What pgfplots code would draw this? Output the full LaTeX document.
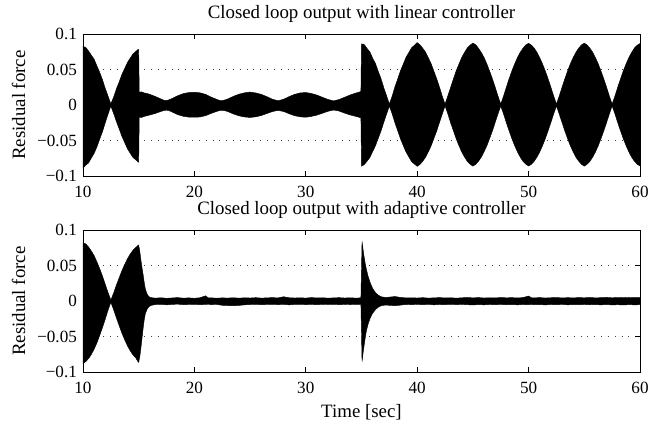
\documentclass[12pt,border=0pt]{standalone}
\usepackage{fontspec}
\setmainfont{Liberation Serif}
\usepackage{pgfplots}
\usepackage{pgfplotstable}
\pgfplotsset{compat=1.18}
\usepgfplotslibrary{fillbetween}

\pgfplotstableread{
t up lo
10.00 .0825 -.0890
10.25 .0810 -.0845
10.50 .0760 -.0815
10.75 .0700 -.0745
11.00 .0645 -.0680
11.25 .0550 -.0590
11.50 .0460 -.0480
11.75 .0355 -.0375
12.00 .0235 -.0250
12.25 .0125 -.0130
12.50 .0015 -.0015
12.75 .0110 -.0118
13.00 .0228 -.0232
13.25 .0325 -.0336
13.50 .0432 -.0442
13.75 .0515 -.0530
14.00 .0600 -.0618
14.25 .0662 -.0680
14.50 .0720 -.0740
14.75 .0755 -.0772
14.95 .0782 -.0800
15.00 .0780 -.0805
15.05 .0180 -.0170
15.25 .0185 -.0175
15.50 .0170 -.0160
15.75 .0162 -.0150
16.00 .0150 -.0140
16.50 .0120 -.0118
17.00 .0085 -.0090
17.25 .0068 -.0078
17.50 .0062 -.0072
17.75 .0075 -.0080
18.00 .0092 -.0098
18.50 .0130 -.0135
19.00 .0160 -.0158
19.50 .0176 -.0170
20.00 .0180 -.0172
20.50 .0172 -.0168
21.00 .0150 -.0150
21.50 .0112 -.0118
22.00 .0080 -.0090
22.25 .0065 -.0078
22.50 .0062 -.0074
22.75 .0072 -.0080
23.00 .0085 -.0092
23.50 .0122 -.0125
24.00 .0152 -.0152
24.50 .0172 -.0168
25.00 .0182 -.0175
25.50 .0170 -.0166
26.00 .0150 -.0148
26.50 .0118 -.0120
27.00 .0082 -.0092
27.50 .0060 -.0076
28.00 .0080 -.0090
28.50 .0118 -.0122
29.00 .0150 -.0150
29.50 .0170 -.0166
30.00 .0176 -.0172
30.50 .0162 -.0160
31.00 .0140 -.0142
31.50 .0108 -.0115
32.00 .0078 -.0088
32.50 .0058 -.0070
33.00 .0078 -.0085
33.50 .0110 -.0115
34.00 .0142 -.0140
34.50 .0168 -.0160
34.95 .0190 -.0180
35.00 .0860 -.0860
35.25 .0850 -.0838
35.50 .0795 -.0790
35.75 .0748 -.0738
36.00 .0660 -.0655
36.25 .0585 -.0575
36.50 .0475 -.0470
36.75 .0372 -.0366
37.00 .0245 -.0245
37.25 .0130 -.0128
37.50 .0015 -.0015
37.75 .0122 -.0123
38.00 .0255 -.0249
38.25 .0365 -.0362
38.50 .0482 -.0475
38.75 .0575 -.0570
39.00 .0672 -.0662
39.25 .0738 -.0730
39.50 .0806 -.0795
39.75 .0840 -.0830
40.00 .0878 -.0862
40.25 .0846 -.0836
40.50 .0798 -.0790
40.75 .0745 -.0736
41.00 .0664 -.0658
41.25 .0582 -.0575
41.50 .0476 -.0470
41.75 .0370 -.0366
42.00 .0252 -.0245
42.25 .0124 -.0127
42.50 .0014 -.0013
42.75 .0128 -.0124
43.00 .0248 -.0249
43.25 .0366 -.0362
43.50 .0481 -.0474
43.75 .0577 -.0572
44.00 .0670 -.0661
44.25 .0740 -.0732
44.50 .0803 -.0793
44.75 .0842 -.0832
45.00 .0872 -.0860
45.25 .0848 -.0835
45.50 .0799 -.0791
45.75 .0740 -.0735
46.00 .0669 -.0659
46.25 .0580 -.0574
46.50 .0477 -.0472
46.75 .0370 -.0365
47.00 .0251 -.0246
47.25 .0126 -.0126
47.50 .0013 -.0014
47.75 .0125 -.0125
48.00 .0250 -.0248
48.25 .0368 -.0363
48.50 .0480 -.0473
48.75 .0578 -.0571
49.00 .0668 -.0660
49.25 .0742 -.0733
49.50 .0800 -.0792
49.75 .0845 -.0833
50.00 .0868 -.0858
50.25 .0843 -.0834
50.50 .0802 -.0791
50.75 .0741 -.0733
51.00 .0666 -.0660
51.25 .0578 -.0572
51.50 .0478 -.0473
51.75 .0369 -.0364
52.00 .0250 -.0247
52.25 .0127 -.0125
52.50 .0014 -.0013
52.75 .0126 -.0126
53.00 .0249 -.0246
53.25 .0367 -.0365
53.50 .0479 -.0472
53.75 .0580 -.0574
54.00 .0667 -.0659
54.25 .0741 -.0735
54.50 .0801 -.0790
54.75 .0846 -.0834
55.00 .0870 -.0861
55.25 .0845 -.0833
55.50 .0800 -.0793
55.75 .0743 -.0734
56.00 .0667 -.0661
56.25 .0579 -.0573
56.50 .0478 -.0472
56.75 .0368 -.0364
57.00 .0251 -.0247
57.25 .0125 -.0125
57.50 .0014 -.0013
57.75 .0127 -.0124
58.00 .0250 -.0248
58.25 .0367 -.0363
58.50 .0480 -.0473
58.75 .0578 -.0572
59.00 .0668 -.0660
59.25 .0740 -.0734
59.50 .0802 -.0791
59.75 .0842 -.0833
60.00 .0865 -.0858
}\linear

\pgfplotstableread{
t up lo
10.00 .0820 -.0880
10.25 .0805 -.0850
10.50 .0762 -.0808
10.75 .0705 -.0750
11.00 .0640 -.0676
11.25 .0552 -.0588
11.50 .0458 -.0482
11.75 .0352 -.0372
12.00 .0236 -.0252
12.25 .0122 -.0128
12.50 .0015 -.0015
12.75 .0112 -.0120
13.00 .0226 -.0236
13.25 .0328 -.0345
13.50 .0430 -.0452
13.75 .0518 -.0545
14.00 .0598 -.0630
14.25 .0664 -.0700
14.50 .0718 -.0758
14.75 .0756 -.0800
14.95 .0785 -.0855
15.00 .0790 -.0860
15.10 .0700 -.0780
15.20 .0580 -.0660
15.30 .0470 -.0520
15.40 .0370 -.0380
15.50 .0260 -.0260
15.60 .0170 -.0175
15.75 .0100 -.0115
15.90 .0065 -.0080
16.10 .0050 -.0060
16.50 .0042 -.0048
17.00 .0048 -.0044
17.50 .0040 -.0052
18.00 .0045 -.0046
18.50 .0050 -.0042
19.00 .0042 -.0050
19.50 .0046 -.0047
20.00 .0040 -.0045
20.50 .0048 -.0050
21.00 .0075 -.0046
21.25 .0045 -.0043
21.50 .0047 -.0049
22.00 .0041 -.0046
22.50 .0046 -.0058
23.00 .0043 -.0062
23.50 .0048 -.0065
24.00 .0042 -.0060
24.50 .0047 -.0052
25.00 .0044 -.0048
25.50 .0049 -.0045
26.00 .0043 -.0050
26.50 .0046 -.0047
27.00 .0050 -.0044
27.50 .0045 -.0049
28.00 .0062 -.0046
28.50 .0048 -.0052
29.00 .0044 -.0047
29.50 .0047 -.0044
30.00 .0043 -.0049
30.50 .0050 -.0046
31.00 .0045 -.0050
31.50 .0048 -.0045
32.00 .0042 -.0048
32.50 .0046 -.0044
33.00 .0049 -.0050
33.50 .0044 -.0046
34.00 .0047 -.0048
34.50 .0043 -.0045
34.95 .0046 -.0047
35.05 .0840 -.0850
35.15 .0715 -.0720
35.25 .0608 -.0610
35.35 .0517 -.0500
35.45 .0440 -.0410
35.60 .0345 -.0320
35.80 .0250 -.0230
36.00 .0180 -.0170
36.25 .0120 -.0120
36.50 .0085 -.0085
36.80 .0060 -.0062
37.20 .0052 -.0055
37.60 .0058 -.0060
38.00 .0065 -.0064
38.40 .0055 -.0058
38.80 .0048 -.0050
39.20 .0046 -.0047
39.50 .0047 -.0049
40.00 .0044 -.0046
40.50 .0049 -.0050
41.00 .0043 -.0045
41.50 .0046 -.0052
42.00 .0050 -.0047
42.50 .0045 -.0050
43.00 .0048 -.0044
43.50 .0042 -.0049
44.00 .0047 -.0046
44.50 .0052 -.0050
45.00 .0046 -.0054
45.50 .0050 -.0048
46.00 .0044 -.0052
46.50 .0048 -.0047
47.00 .0045 -.0050
47.50 .0051 -.0046
48.00 .0047 -.0051
48.50 .0049 -.0048
49.00 .0045 -.0052
49.50 .0050 -.0047
50.00 .0072 -.0050
50.25 .0048 -.0046
50.50 .0046 -.0051
51.00 .0050 -.0048
51.50 .0044 -.0053
52.00 .0048 -.0047
52.50 .0051 -.0050
53.00 .0045 -.0046
53.50 .0049 -.0052
54.00 .0046 -.0048
54.50 .0050 -.0050
55.00 .0047 -.0047
55.50 .0052 -.0051
56.00 .0046 -.0049
56.50 .0049 -.0052
57.00 .0053 -.0048
57.50 .0047 -.0053
58.00 .0051 -.0050
58.50 .0048 -.0054
59.00 .0052 -.0049
59.50 .0049 -.0052
60.00 .0050 -.0050
}\adaptive

\pgfplotsset{
  resid/.style={
    scale only axis,
    width=384pt, height=98pt,
    xmin=10, xmax=60, ymin=-0.1, ymax=0.1,
    xtick={10,20,30,40,50,60},
    ytick={-0.1,-0.05,0,0.05,0.1},
    yticklabels={−0.1,−0.05,0,0.05,0.1},
    scaled y ticks=false,
    tick align=inside,
    major tick length=3.5pt,
    tick style={black, line width=0.4pt},
    ymajorgrids,
    major grid style={black!75, line width=0.5pt, dash pattern=on 0.5pt off 4.2pt},
    axis line style={line width=0.5pt},
    /pgf/number format/assume math mode=true,
    ticklabel style={font=\fontsize{11.8}{13.8}\selectfont},
    xticklabel style={yshift=-2.5pt},
    label style={font=\fontsize{13}{15}\selectfont},
    title style={font=\fontsize{13}{15}\selectfont, at={(0.5,1)}, anchor=south, inner sep=1pt, yshift=1pt},
    ylabel={Residual force},
    ylabel style={yshift=0pt},
  }
}

\begin{document}
\begin{tikzpicture}
\begin{axis}[resid, at={(0,0)}, title={Closed loop output with linear controller}]
  \addplot[name path=up, black, line width=0.3pt] table[x=t, y=up] {\linear};
  \addplot[name path=lo, black, line width=0.3pt] table[x=t, y=lo] {\linear};
  \addplot[black, fill=black] fill between[of=up and lo];
\end{axis}
\begin{axis}[resid, at={(0,-135.2pt)}, title={Closed loop output with adaptive controller}, xlabel={Time [sec]}, xlabel style={yshift=1pt}]
  \addplot[name path=up2, black, line width=0.3pt] table[x=t, y=up] {\adaptive};
  \addplot[name path=lo2, black, line width=0.3pt] table[x=t, y=lo] {\adaptive};
  \addplot[black, fill=black] fill between[of=up2 and lo2];
\end{axis}
\pgfresetboundingbox
\path[use as bounding box] (-57.2pt,-170.7pt) rectangle (390.2pt,121.4pt);
\end{tikzpicture}
\end{document}
